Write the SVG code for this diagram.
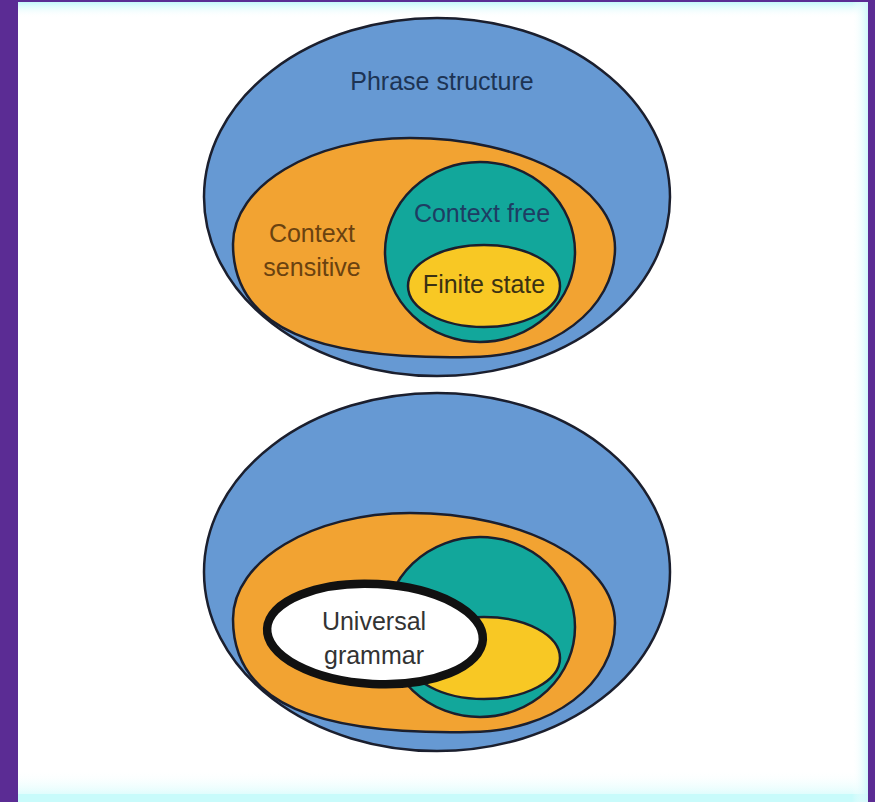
<svg xmlns="http://www.w3.org/2000/svg" width="875" height="802" viewBox="0 0 875 802">
  <defs>
    <linearGradient id="topFade" x1="0" y1="0" x2="0" y2="1">
      <stop offset="0" stop-color="#c4f6fa"/>
      <stop offset="1" stop-color="#ffffff" stop-opacity="0"/>
    </linearGradient>
    <linearGradient id="botFade" x1="0" y1="0" x2="0" y2="1">
      <stop offset="0" stop-color="#ffffff" stop-opacity="0"/>
      <stop offset="1" stop-color="#c8fbfb"/>
    </linearGradient>
    <linearGradient id="rightFade" x1="0" y1="0" x2="1" y2="0">
      <stop offset="0" stop-color="#ffffff" stop-opacity="0"/>
      <stop offset="1" stop-color="#cff8fa"/>
    </linearGradient>
    <ellipse id="blueShape" cx="437" cy="197" rx="233" ry="179"/>
    <path id="orangeShape" d="M410,138 C522,138 615,186 615,248 C615,309 552,357 470,357 C320,360 233,330 233,244 C233,186 312,138 410,138 Z"/>
  </defs>
  <style>
    .blue { fill: #6699d3; stroke: #1b1f2e; stroke-width: 2.5; }
    .orange { fill: #f2a332; stroke: #1b1f2e; stroke-width: 2.5; }
    .teal { fill: #12a79b; stroke: #1b1f2e; stroke-width: 2.5; }
    .yellow { fill: #f8c824; stroke: #1b1f2e; stroke-width: 2.5; }
    .ug { fill: #ffffff; stroke: #111111; stroke-width: 8.5; }
    text { font-family: "Liberation Sans", Arial, sans-serif; font-size: 25px; text-anchor: middle; }
  </style>

  <!-- background -->
  <rect x="0" y="0" width="875" height="802" fill="#5b2c94"/>
  <rect x="18" y="2" width="850" height="800" fill="#ffffff"/>
  <rect x="18" y="2" width="850" height="16" fill="url(#topFade)"/>
  <rect x="18" y="770" width="850" height="32" fill="url(#botFade)"/>
  <rect x="18" y="794" width="850" height="8" fill="#c8fbfb"/>
  <rect x="852" y="2" width="16" height="800" fill="url(#rightFade)"/>

  <!-- top diagram -->
  <g id="phrase-structure">
    <use href="#blueShape" class="blue"/>
    <text x="442" y="90" fill="#1d3454">Phrase structure</text>
  </g>
  <g id="context-sensitive">
    <use href="#orangeShape" class="orange"/>
    <text x="312" y="242" fill="#6a4210">Context</text>
    <text x="312" y="276" fill="#6a4210">sensitive</text>
  </g>
  <g id="context-free">
    <ellipse cx="480" cy="252" rx="95" ry="90" class="teal"/>
    <text x="482" y="222" fill="#1e3d63">Context free</text>
  </g>
  <g id="finite-state">
    <ellipse cx="484" cy="286" rx="76" ry="41" class="yellow"/>
    <text x="484" y="293" fill="#3b3113">Finite state</text>
  </g>

  <!-- bottom diagram -->
  <g id="phrase-structure-2" transform="translate(0,375)">
    <use href="#blueShape" class="blue"/>
  </g>
  <g id="context-sensitive-2" transform="translate(0,375)">
    <use href="#orangeShape" class="orange"/>
  </g>
  <g id="context-free-2">
    <ellipse cx="480" cy="627" rx="95" ry="90" class="teal"/>
  </g>
  <g id="finite-state-2">
    <ellipse cx="484" cy="658" rx="76" ry="41" class="yellow"/>
  </g>
  <g id="universal-grammar">
    <ellipse cx="375" cy="634" rx="108" ry="50" class="ug" transform="rotate(3 375 634)"/>
    <text x="374" y="630" fill="#333333">Universal</text>
    <text x="374" y="664" fill="#333333">grammar</text>
  </g>
</svg>
